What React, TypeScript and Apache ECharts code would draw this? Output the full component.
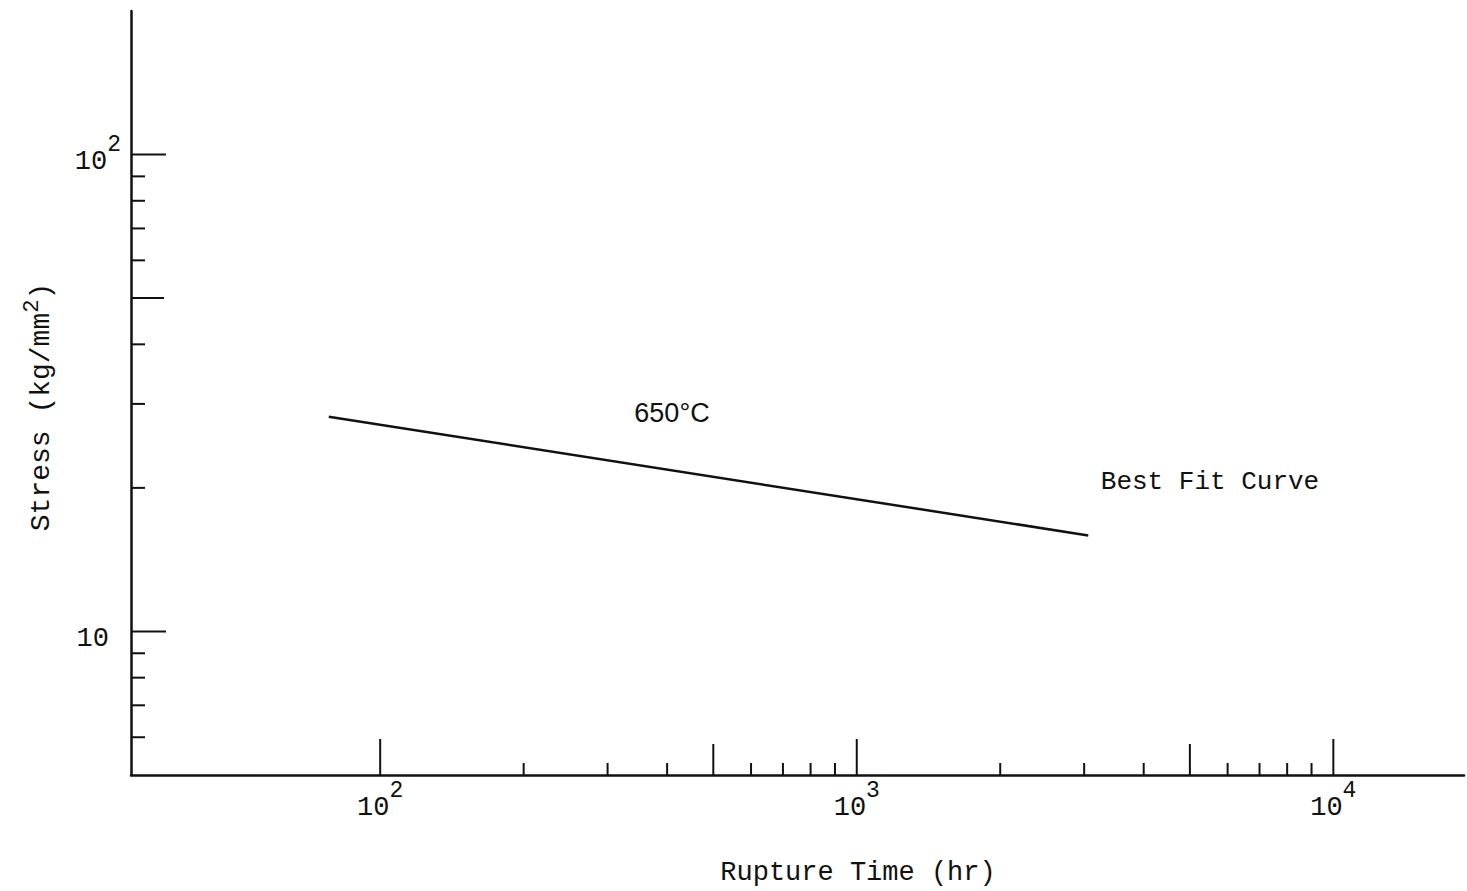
import React, { useEffect, useRef } from "react";
import * as echarts from "echarts";

// Axis ranges (data units)
const xRange = [30, 18800];
const yRange = [5, 200];

// Tick positions (data units)
const xMajorTicks = [100, 1000, 10000];
const xMidTicks = [500, 5000];
const xMinorTicks = [200, 300, 400, 600, 700, 800, 900, 2000, 3000, 4000, 6000, 7000, 8000, 9000];
const yMajorTicks = [10, 100];
const yMidTicks = [50];
const yMinorTicks = [6, 7, 8, 9, 20, 30, 40, 60, 70, 80, 90];

// Tick labels (rich text)
const xTickLabels: Record<number, string> = {
  100: "{base|10}{sup|2}",
  1000: "{base|10}{sup|3}",
  10000: "{base|10}{sup|4}",
};
const yTickLabels: Record<number, string> = { 10: "{basePad|10}", 100: "{base|10}{sup|2}" };

// Best fit curve at 650°C
const fitTime = [78, 3060];
const fitStress = [28.2, 15.9];

const INK = "#111";
const MONO = "'Liberation Mono', 'DejaVu Sans Mono', monospace";

function tickSeries(values: number[], axis: "x" | "y", len: number) {
  return {
    type: "custom",
    silent: true,
    clip: false,
    z: 3,
    data: values.map((v) => (axis === "x" ? [v, yRange[0]] : [xRange[0], v])),
    renderItem: (_p: any, api: any) => {
      const p = api.coord([api.value(0), api.value(1)]);
      const shape =
        axis === "x"
          ? { x1: p[0], y1: p[1], x2: p[0], y2: p[1] - len }
          : { x1: p[0], y1: p[1], x2: p[0] + len, y2: p[1] };
      return { type: "line", shape, style: { stroke: INK, lineWidth: 2 } };
    },
  };
}

const richLabel = {
  base: { fontFamily: MONO, fontSize: 27, color: INK, verticalAlign: "bottom", lineHeight: 42 },
  basePad: { fontFamily: MONO, fontSize: 27, color: INK, verticalAlign: "bottom", lineHeight: 42, padding: [0, 12, 0, 0] },
  sup: { fontFamily: MONO, fontSize: 23, color: INK, verticalAlign: "top", lineHeight: 42 },
};

export default function App() {
  const ref = useRef<HTMLDivElement>(null);
  useEffect(() => {
    if (!ref.current) return;
    const chart = echarts.init(ref.current, undefined, { renderer: "svg" });
    const fmt = (map: Record<number, string>) => (v: number) => map[Math.round(v)] || "";
    chart.setOption({
      animation: false,
      backgroundColor: "#fff",
      grid: { left: 131, top: 11, right: 0, bottom: 114, containLabel: false },
      xAxis: {
        type: "log",
        logBase: 10,
        min: xRange[0],
        max: xRange[1],
        axisLine: { show: true, lineStyle: { color: INK, width: 2.5 } },
        axisTick: { show: false },
        splitLine: { show: false },
        axisLabel: { formatter: fmt(xTickLabels), margin: 4, rich: richLabel },
        name: "Rupture Time (hr)",
        nameLocation: "middle",
        nameGap: 84,
        nameTextStyle: { fontFamily: MONO, fontSize: 27, color: INK, padding: [0, 0, 0, 121] },
      },
      yAxis: {
        type: "log",
        logBase: 10,
        min: yRange[0],
        max: yRange[1],
        axisLine: { show: true, lineStyle: { color: INK, width: 2.5 } },
        axisTick: { show: false },
        splitLine: { show: false },
        axisLabel: { formatter: fmt(yTickLabels), margin: 10, rich: richLabel },
        name: "Stress (kg/mm{sup|2})",
        nameLocation: "middle",
        nameRotate: 90,
        nameGap: 70,
        nameTextStyle: {
          fontFamily: MONO,
          fontSize: 28,
          color: INK,
          padding: [0, 28, 0, 0],
          rich: { sup: { fontFamily: MONO, fontSize: 22, color: INK, verticalAlign: "top", lineHeight: 40 } },
        },
      },
      graphic: [
        {
          type: "text",
          x: 672,
          y: 413,
          style: {
            text: "650°C",
            font: "27px 'Liberation Sans', sans-serif",
            fill: INK,
            textAlign: "center",
            textVerticalAlign: "middle",
          },
        },
        {
          type: "text",
          x: 1210,
          y: 482,
          style: {
            text: "Best Fit Curve",
            font: "26px " + MONO,
            fill: INK,
            textAlign: "center",
            textVerticalAlign: "middle",
          },
        },
      ],
      series: [
        {
          type: "line",
          data: fitTime.map((t, i) => [t, fitStress[i]]),
          symbol: "none",
          lineStyle: { color: INK, width: 2.5 },
          z: 4,
        },
        tickSeries(xMajorTicks, "x", 36),
        tickSeries(xMidTicks, "x", 31),
        tickSeries(xMinorTicks, "x", 12),
        tickSeries(yMajorTicks, "y", 35),
        tickSeries(yMidTicks, "y", 33),
        tickSeries(yMinorTicks, "y", 14),
      ],
    });
    return () => chart.dispose();
  }, []);
  return <div ref={ref} style={{ position: "fixed", left: 0, top: 0, width: 1467, height: 891 }} />;
}
